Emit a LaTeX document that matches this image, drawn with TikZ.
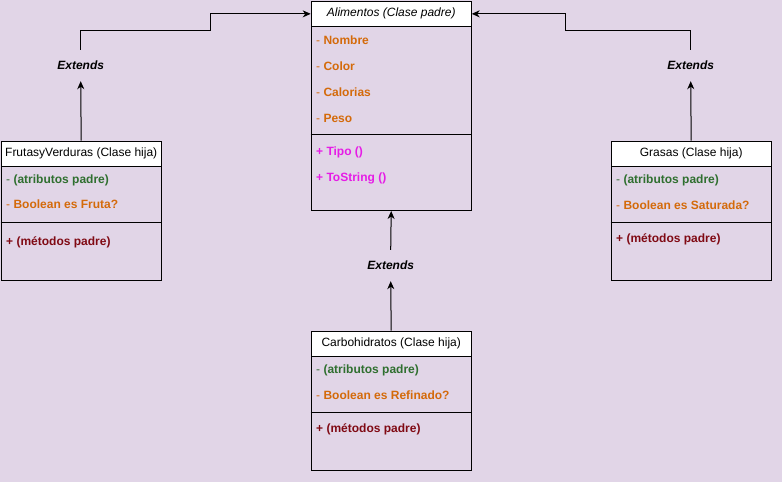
\documentclass[tikz,border=0pt]{standalone}
\usepackage{fontspec}
\setmainfont{Liberation Sans}
\usetikzlibrary{arrows.meta}
\definecolor{bgc}{HTML}{E1D5E7}
\definecolor{orc}{HTML}{D46A0A}
\definecolor{grc}{HTML}{2F6F2F}
\definecolor{mgc}{HTML}{E61CE6}
\definecolor{drc}{HTML}{800A14}
\tikzset{
  hdr/.style={draw=black, line width=1pt, fill=white, minimum width=160pt, minimum height=25.3pt, inner sep=0pt, anchor=north west, font=\fontsize{12}{14}\selectfont},
  bodybox/.style={draw=black, line width=1pt, minimum width=160pt, inner sep=0pt, anchor=north west},
  sepline/.style={draw=black, line width=1pt},
  item/.style={anchor=west, inner sep=0pt, font=\fontsize{12}{14}\selectfont},
  extlbl/.style={inner sep=0pt, minimum height=31pt, font=\fontsize{12}{14}\selectfont\bfseries\itshape},
  conn/.style={draw=black, line width=1pt},
  arr/.style={-{Stealth[length=8pt,width=7pt,inset=2.5pt]}}
}
\begin{document}
\begin{tikzpicture}[x=1pt,y=-1pt]
\useasboundingbox[fill=bgc] (0,0) rectangle (782,482);

% Alimentos
\node[bodybox, minimum height=184pt] (alB) at (310.7,26) {};
\node[hdr] (alH) at (310.7,0.7) {\itshape Alimentos (Clase padre)};
\draw[sepline] (alB.west |- 0,134.7) -- (alB.east |- 0,134.7);
\node[item, text=orc] (al1) at (316,40) {- \textbf{Nombre}};
\node[item, text=orc] (al2) at (316,66) {- \textbf{Color}};
\node[item, text=orc] (al3) at (316,92) {- \textbf{Calorias}};
\node[item, text=orc] (al4) at (316,118) {- \textbf{Peso}};
\node[item, text=mgc] (al5) at (316,152) {\textbf{+ Tipo ()}};
\node[item, text=mgc] (al6) at (316,178) {\textbf{+ ToString ()}};

% FrutasyVerduras
\node[bodybox, minimum height=114pt] (fvB) at (0.7,166) {};
\node[hdr] (fvH) at (0.7,140.7) {FrutasyVerduras (Clase hija)};
\draw[sepline] (fvB.west |- 0,222.3) -- (fvB.east |- 0,222.3);
\node[item, text=grc] (fv1) at (6,180) {- \textbf{(atributos padre)}};
\node[item, text=orc] (fv2) at (6,204) {- \textbf{Boolean es Fruta?}};
\node[item, text=drc] (fv3) at (6,242) {\textbf{+ (métodos padre)}};

% Grasas
\node[bodybox, minimum height=114pt] (grB) at (610.7,166) {};
\node[hdr] (grH) at (610.7,140.7) {Grasas (Clase hija)};
\draw[sepline] (grB.west |- 0,222.3) -- (grB.east |- 0,222.3);
\node[item, text=grc] (gr1) at (616,180) {- \textbf{(atributos padre)}};
\node[item, text=orc] (gr2) at (616,205) {- \textbf{Boolean es Saturada?}};
\node[item, text=drc] (gr3) at (616,239) {\textbf{+ (métodos padre)}};

% Carbohidratos
\node[bodybox, minimum height=114pt] (cbB) at (310.7,356) {};
\node[hdr] (cbH) at (310.7,330.7) {Carbohidratos (Clase hija)};
\draw[sepline] (cbB.west |- 0,412.3) -- (cbB.east |- 0,412.3);
\node[item, text=grc] (cb1) at (316,370) {- \textbf{(atributos padre)}};
\node[item, text=orc] (cb2) at (316,395) {- \textbf{Boolean es Refinado?}};
\node[item, text=drc] (cb3) at (316,429) {\textbf{+ (métodos padre)}};

% Extends labels
\node[extlbl] (ex1) at (80.7,65.5) {Extends};
\node[extlbl] (ex2) at (690.7,65.5) {Extends};
\node[extlbl] (ex3) at (390.7,265.5) {Extends};

\coordinate (c1) at (210.7,30.7);
\coordinate (c2) at (565.7,30.7);

% connectors
\draw[conn, arr] (fvH.north) -- (ex1.south);
\draw[conn, arr] (ex1.north) |- (c1) |- (alH.west);
\draw[conn, arr] (grH.north) -- (ex2.south);
\draw[conn, arr] (ex2.north) |- (c2) |- (alH.east);
\draw[conn, arr] (cbH.north) -- (ex3.south);
\draw[conn, arr] (ex3.north) -- (alB.south);
\end{tikzpicture}
\end{document}
